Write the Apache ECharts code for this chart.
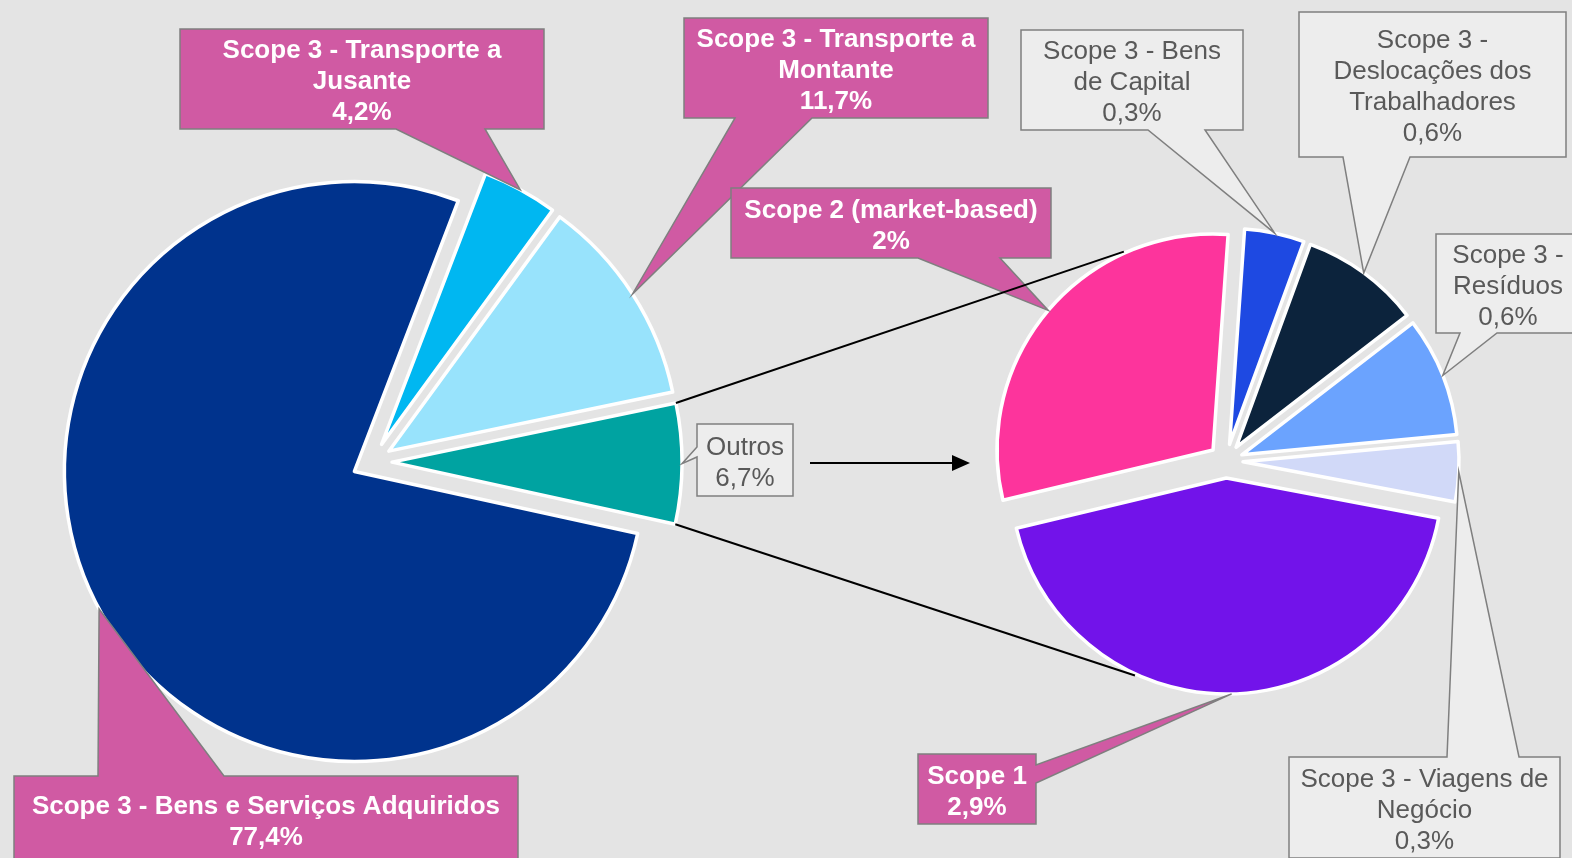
<!DOCTYPE html>
<html>
<head>
<meta charset="utf-8">
<title>Emissões - pie of pie</title>
<script src="https://cdn.jsdelivr.net/npm/echarts@6/dist/echarts.min.js"></script>
<style>
  html, body { margin: 0; padding: 0; background: #e4e4e4; }
  #chart { width: 1572px; height: 858px; }
</style>
</head>
<body>
<div id="chart"></div>
<script>
// main pie (clockwise from the top of "Transporte a Jusante")
const mainNames = ['Scope 3 - Transporte a\nJusante', 'Scope 3 - Transporte a\nMontante', 'Outros', 'Scope 3 - Bens e Serviços Adquiridos']
const mainValues = [4.2, 11.7, 6.7, 77.4]
const mainColors = ['#00b7f1', '#98e3fc', '#00a3a1', '#00338d']

// second pie = breakdown of "Outros"
const subNames = ['Scope 3 - Bens\nde Capital', 'Scope 3 -\nDeslocações dos\nTrabalhadores', 'Scope 3 -\nResíduos', 'Scope 3 - Viagens de\nNegócio', 'Scope 1', 'Scope 2 (market-based)']
const subValues = [0.3, 0.6, 0.6, 0.3, 2.9, 2.0]
const subColors = ['#1e49e2', '#0c233c', '#6ba3fe', '#d1d9f8', '#7213ea', '#fd349c']

// callout boxes: [x, y, w, h], side of the pointer, pointer base, style
const mainCallouts = [
  { rect: [180, 29, 364, 100], side: 'bottom', base: [396, 485], kind: 'pink' },
  { rect: [684, 18, 304, 100], side: 'bottom', base: [735, 812], kind: 'pink' },
  { rect: [697, 424, 96, 72], side: 'left', base: [447, 457], kind: 'gray' },
  { rect: [14, 776, 504, 86], side: 'top', base: [98, 224], kind: 'pink' }
]
const subCallouts = [
  { rect: [1021, 30, 222, 100], side: 'bottom', base: [1148, 1205], kind: 'gray' },
  { rect: [1299, 12, 267, 145], side: 'bottom', base: [1343, 1410], kind: 'gray' },
  { rect: [1436, 234, 144, 99], side: 'bottom', base: [1460, 1497], kind: 'gray' },
  { rect: [1289, 757, 271, 101], side: 'top', base: [1447, 1519], kind: 'gray' },
  { rect: [918, 754, 118, 70], side: 'right', base: [765, 783], kind: 'pink' },
  { rect: [731, 188, 320, 70], side: 'bottom', base: [918, 1000], kind: 'pink' }
]

const MAIN = { cx: 372, cy: 462, r: 290, off: 20, start: 69 }
const SUB = { cx: 1226, cy: 461, r: 216, off: 17, start: 86 }

const styles = {
  pink: { fill: '#d05aa3', text: '#ffffff', font: 'bold 26px Arial, "Liberation Sans", sans-serif' },
  gray: { fill: '#ededed', text: '#595959', font: '26px Arial, "Liberation Sans", sans-serif' }
}

// same angle convention as the echarts pie layout
function sliceGeom (values, p) {
  const total = values.reduce((a, b) => a + b, 0)
  let a = -p.start * Math.PI / 180
  return values.map(v => {
    const s = a
    const e = a + v / total * Math.PI * 2
    a = e
    const mid = (s + e) / 2
    return { s: s, e: e, mid: mid, cx: p.cx + Math.cos(mid) * p.off, cy: p.cy + Math.sin(mid) * p.off }
  })
}

function calloutPoints (rect, side, base, tip) {
  const x = rect[0]
  const y = rect[1]
  const x2 = x + rect[2]
  const y2 = y + rect[3]
  const pts = [[x, y]]
  if (side === 'top') pts.push([base[0], y], tip, [base[1], y])
  pts.push([x2, y])
  if (side === 'right') pts.push([x2, base[0]], tip, [x2, base[1]])
  pts.push([x2, y2])
  if (side === 'bottom') pts.push([base[1], y2], tip, [base[0], y2])
  pts.push([x, y2])
  if (side === 'left') pts.push([x, base[1]], tip, [x, base[0]])
  return pts
}

function fmt (v) {
  return String(v).replace('.', ',') + '%'
}

function callouts (names, values, list, p) {
  const geom = sliceGeom(values, p)
  const out = []
  list.forEach((c, i) => {
    const g = geom[i]
    const tip = [g.cx + Math.cos(g.mid) * p.r, g.cy + Math.sin(g.mid) * p.r]
    const st = styles[c.kind]
    out.push({
      type: 'polygon',
      z: 10,
      shape: { points: calloutPoints(c.rect, c.side, c.base, tip) },
      style: { fill: st.fill, stroke: '#7f7f7f', lineWidth: 1.5 }
    })
    out.push({
      type: 'text',
      z: 11,
      style: {
        text: names[i] + '\n' + fmt(values[i]),
        x: c.rect[0] + c.rect[2] / 2,
        y: c.rect[1] + c.rect[3] / 2 + 3,
        align: 'center',
        verticalAlign: 'middle',
        lineHeight: 31,
        font: st.font,
        fill: st.text
      }
    })
  })
  return out
}

function connectors () {
  const g = sliceGeom(mainValues, MAIN)[2]
  const top = [g.cx + Math.cos(g.s) * MAIN.r, g.cy + Math.sin(g.s) * MAIN.r]
  const bot = [g.cx + Math.cos(g.e) * MAIN.r, g.cy + Math.sin(g.e) * MAIN.r]
  const d = SUB.r + SUB.off
  const a1 = -116 * Math.PI / 180
  const a2 = 113 * Math.PI / 180
  const lineStyle = { stroke: '#000', lineWidth: 2 }
  return [
    { type: 'line', z: 12, shape: { x1: top[0], y1: top[1], x2: SUB.cx + Math.cos(a1) * d, y2: SUB.cy + Math.sin(a1) * d }, style: lineStyle },
    { type: 'line', z: 12, shape: { x1: bot[0], y1: bot[1], x2: SUB.cx + Math.cos(a2) * d, y2: SUB.cy + Math.sin(a2) * d }, style: lineStyle },
    // arrow between the two pies
    { type: 'line', z: 12, shape: { x1: 810, y1: 463, x2: 956, y2: 463 }, style: { stroke: '#000', lineWidth: 2 } },
    { type: 'polygon', z: 12, shape: { points: [[952, 455], [970, 463], [952, 471]] }, style: { fill: '#000' } }
  ]
}

function pieSeries (names, values, colors, p) {
  return {
    type: 'pie',
    center: [p.cx, p.cy],
    radius: p.r,
    startAngle: p.start,
    clockwise: true,
    selectedMode: 'multiple',
    selectedOffset: p.off,
    silent: true,
    animation: false,
    label: { show: false },
    labelLine: { show: false },
    emphasis: { disabled: true },
    itemStyle: { borderColor: '#ffffff', borderWidth: 3.5 },
    data: names.map((n, i) => ({
      name: n,
      value: values[i],
      selected: true,
      itemStyle: { color: colors[i] }
    }))
  }
}

const chart = echarts.init(document.getElementById('chart'))
chart.setOption({
  backgroundColor: '#e4e4e4',
  animation: false,
  series: [
    pieSeries(mainNames, mainValues, mainColors, MAIN),
    pieSeries(subNames, subValues, subColors, SUB)
  ],
  graphic: [].concat(
    callouts(mainNames, mainValues, mainCallouts, MAIN),
    callouts(subNames, subValues, subCallouts, SUB),
    connectors()
  )
})
</script>
</body>
</html>
